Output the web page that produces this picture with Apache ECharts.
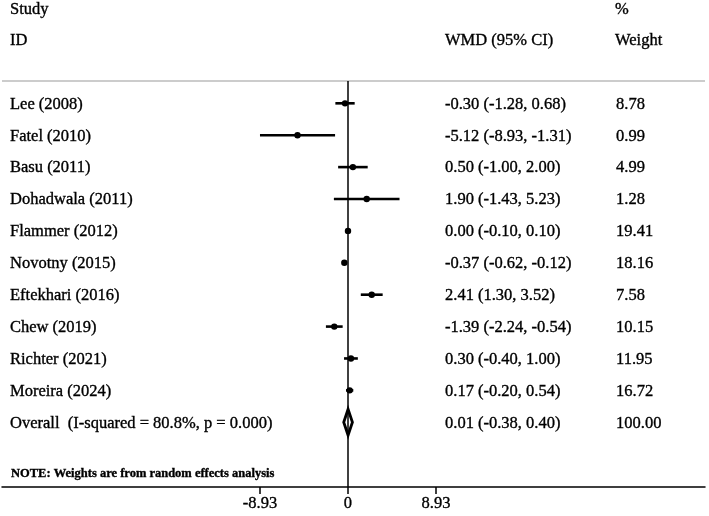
<!DOCTYPE html>
<html>
<head>
<meta charset="utf-8">
<script src="https://cdn.jsdelivr.net/npm/echarts@6/dist/echarts.min.js"></script>
<style>html,body{margin:0;padding:0;background:#fff;}#c{width:709px;height:516px;}</style>
</head>
<body>
<div id="c"></div>
<script>
// ---- data ----
var studies = ['Lee (2008)', 'Fatel (2010)', 'Basu (2011)', 'Dohadwala (2011)', 'Flammer (2012)', 'Novotny (2015)', 'Eftekhari (2016)', 'Chew (2019)', 'Richter (2021)', 'Moreira (2024)'];
var estimates = [-0.30, -5.12, 0.50, 1.90, 0.00, -0.37, 2.41, -1.39, 0.30, 0.17];
var lowerCI = [-1.28, -8.93, -1.00, -1.43, -0.10, -0.62, 1.30, -2.24, -0.40, -0.20];
var upperCI = [0.68, -1.31, 2.00, 5.23, 0.10, -0.12, 3.52, -0.54, 1.00, 0.54];
var weights = [8.78, 0.99, 4.99, 1.28, 19.41, 18.16, 7.58, 10.15, 11.95, 16.72];
var overallLabel = 'Overall  (I-squared = 80.8%, p = 0.000)';
var overallEstimate = 0.01;
var overallLower = -0.38;
var overallUpper = 0.40;
var overallWeight = 100.00;
var tickValues = [-8.93, 0, 8.93];
var noteText = 'NOTE: Weights are from random effects analysis';

// ---- build ----
var FONT = 'Liberation Serif';
var FS = 16.5;
var TB = 0.35;
function f2(v) { return v.toFixed(2); }
function ciText(e, l, u) { return f2(e) + ' (' + f2(l) + ', ' + f2(u) + ')'; }

var rows = [];
for (var i = 0; i < studies.length; i++) {
  rows.push([i, estimates[i], lowerCI[i], upperCI[i], studies[i], ciText(estimates[i], lowerCI[i], upperCI[i]), f2(weights[i]), 0]);
}
var overallRow = [studies.length, overallEstimate, overallLower, overallUpper, overallLabel, ciText(overallEstimate, overallLower, overallUpper), f2(overallWeight), 1];
var allRows = rows.concat([overallRow]);

var chart = echarts.init(document.getElementById('c'));

function txtStyle(t, x, y, size, weight) {
  return { text: t, x: x, y: y, fill: '#000', fontFamily: FONT, fontSize: size || FS, fontWeight: weight || 'normal',
    verticalAlign: 'middle', align: 'left', stroke: '#000', lineWidth: TB };
}
function txt(t, x, y, size, weight) {
  return { type: 'text', style: txtStyle(t, x, y, size, weight) };
}

var option = {
  animation: false,
  backgroundColor: '#fff',
  grid: { left: 2, right: 4, top: 81, bottom: 29 },
  xAxis: {
    type: 'value', min: -35.11, max: 36.23,
    axisLine: { show: true, onZero: false, lineStyle: { color: '#000', width: 1.5 } },
    splitLine: { show: false },
    axisTick: { show: true, length: 7, customValues: tickValues, lineStyle: { color: '#000', width: 1.5 } },
    axisLabel: { show: true, customValues: tickValues, margin: 8, color: '#000', fontFamily: FONT, fontSize: FS,
      textBorderColor: '#000', textBorderWidth: TB,
      formatter: function (v) { return v === 0 ? '0' : v.toFixed(2); } }
  },
  yAxis: {
    type: 'value', inverse: true, min: -0.70, max: 12.03,
    show: false, splitLine: { show: false }
  },
  graphic: [
    { type: 'line', shape: { x1: 2, y1: 81, x2: 705, y2: 81 }, style: { stroke: '#999', lineWidth: 1.2 } },
    { type: 'text', style: txtStyle('Study', 10, 10) },
    { type: 'text', style: txtStyle('ID', 10, 41) },
    { type: 'text', style: txtStyle('WMD (95% CI)', 445, 41) },
    { type: 'text', style: txtStyle('%', 615, 10) },
    { type: 'text', style: txtStyle('Weight', 615, 41) }
  ],
  series: [
    {
      type: 'custom',
      clip: false,
      data: allRows,
      markLine: {
        silent: true, symbol: ['none', 'none'],
        label: { show: false },
        lineStyle: { color: '#000', width: 1.5, type: 'solid' },
        data: [{ xAxis: 0 }]
      },
      renderItem: function (params, api) {
        var idx = api.value(0);
        var e = api.value(1), l = api.value(2), u = api.value(3);
        var isOverall = allRows[params.dataIndex][7] === 1;
        var pc = api.coord([e, idx]);
        var pl = api.coord([l, idx]);
        var pu = api.coord([u, idx]);
        var y = pc[1];
        var row = allRows[params.dataIndex];
        var children = [];
        if (isOverall) {
          children.push({ type: 'polygon', shape: { points: [[pl[0] - 0.5, y], [pc[0], y - 13], [pu[0] + 0.5, y], [pc[0], y + 13]] },
            style: { fill: '#fff', stroke: '#000', lineWidth: 2.8 } });
        } else {
          children.push({ type: 'line', shape: { x1: pl[0], y1: y, x2: pu[0], y2: y }, style: { stroke: '#000', lineWidth: 2.6 } });
          children.push({ type: 'circle', shape: { cx: pc[0], cy: y, r: 3.2 }, style: { fill: '#000' } });
        }
        children.push(txt(row[4], 10, y + 1));
        children.push(txt(row[5], 445, y + 1));
        children.push(txt(row[6], 616, y + 1));
        if (isOverall) {
          children.push(txt(noteText, 11, api.coord([0, idx + 1.6])[1], 12.5, 'bold'));
        }
        return { type: 'group', children: children };
      }
    }
  ]
};
chart.setOption(option);
</script>
</body>
</html>
